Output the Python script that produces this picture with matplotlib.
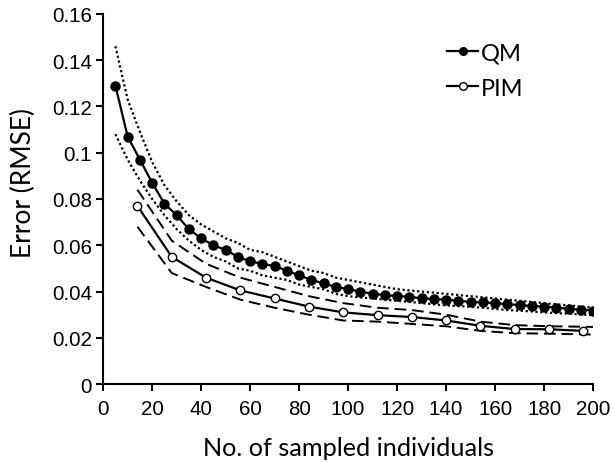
import matplotlib
matplotlib.use("Agg")
import matplotlib.pyplot as plt
import numpy as np

# ----------------------------------------------------------------------------
# Dados
# ----------------------------------------------------------------------------
qm_n = list(range(5, 201, 5))
qm_rmse = [0.129, 0.107, 0.097, 0.087, 0.078, 0.073, 0.067, 0.063, 0.060, 0.058,
           0.055, 0.053, 0.052, 0.051, 0.049, 0.047, 0.045, 0.0435, 0.042, 0.041,
           0.040, 0.039, 0.0385, 0.038, 0.0378, 0.037, 0.0368, 0.0365, 0.036, 0.0355,
           0.0353, 0.035, 0.0345, 0.0342, 0.0337, 0.0335, 0.033, 0.0326, 0.0322, 0.0318]
qm_hi = [0.146, 0.123, 0.109, 0.096, 0.086, 0.079, 0.073, 0.069, 0.066, 0.063,
         0.061, 0.058, 0.057, 0.055, 0.053, 0.051, 0.049, 0.048, 0.046, 0.045,
         0.044, 0.043, 0.042, 0.041, 0.0405, 0.040, 0.0395, 0.039, 0.0385, 0.038,
         0.0375, 0.037, 0.0365, 0.036, 0.0355, 0.035, 0.0345, 0.034, 0.0335, 0.033]
qm_lo = [0.108, 0.097, 0.088, 0.080, 0.073, 0.067, 0.062, 0.058, 0.055, 0.053,
         0.050, 0.049, 0.047, 0.046, 0.045, 0.043, 0.042, 0.041, 0.039, 0.038,
         0.0375, 0.037, 0.0365, 0.036, 0.0355, 0.035, 0.0345, 0.034, 0.0337, 0.0334,
         0.033, 0.0325, 0.032, 0.0317, 0.0314, 0.031, 0.0307, 0.0304, 0.0301, 0.0298]

pim_n = [14, 28, 42, 56, 70, 84, 98, 112, 126, 140, 154, 168, 182, 196]
pim_rmse = [0.077, 0.055, 0.046, 0.0405, 0.037, 0.0335, 0.031, 0.0298, 0.029, 0.0275,
            0.0252, 0.0238, 0.0237, 0.023]
pim_band_n = [14, 28, 42, 56, 70, 84, 98, 112, 126, 140, 154, 168, 182, 196, 200]
pim_hi = [0.084, 0.062, 0.052, 0.046, 0.042, 0.038, 0.035, 0.033, 0.032, 0.030,
          0.027, 0.0255, 0.025, 0.0248, 0.0247]
pim_lo = [0.068, 0.048, 0.042, 0.0365, 0.033, 0.030, 0.0275, 0.027, 0.026, 0.025,
          0.023, 0.022, 0.0218, 0.0215, 0.0214]

x_ticks = list(range(0, 201, 20))
y_ticks = [0, 0.02, 0.04, 0.06, 0.08, 0.1, 0.12, 0.14, 0.16]

# ----------------------------------------------------------------------------
# Plot
# ----------------------------------------------------------------------------
TICK_FONT = "Liberation Sans"
LABEL_FONT = "Lato"

fig = plt.figure(figsize=(6.14, 4.64), dpi=100)
ax = fig.add_axes([0.168, 0.170, 0.798, 0.798])

ax.plot(qm_n, qm_hi, color="black", linestyle=(0, (1, 1.2)), linewidth=1.6, zorder=2)
ax.plot(qm_n, qm_lo, color="black", linestyle=(0, (1, 1.2)), linewidth=1.6, zorder=2)
ax.plot(pim_band_n, pim_hi, color="black", linestyle=(0, (6, 3)), linewidth=1.4, zorder=2)
ax.plot(pim_band_n, pim_lo, color="black", linestyle=(0, (6, 3)), linewidth=1.4, zorder=2)

ax.plot(qm_n, qm_rmse, color="black", linewidth=1.6, marker="o", markersize=6.5,
        markerfacecolor="black", markeredgecolor="black", label="QM", zorder=4)
ax.plot(pim_n, pim_rmse, color="black", linewidth=1.6, marker="o", markersize=6,
        markerfacecolor="white", markeredgecolor="black", markeredgewidth=1.0,
        label="PIM", zorder=4)

ax.set_xlim(0, 200)
ax.set_ylim(0, 0.16)
ax.set_xticks(x_ticks)
ax.set_yticks(y_ticks)
ax.set_xticklabels([f"{v:g}" for v in x_ticks], fontsize=14.8, family=TICK_FONT)
ax.set_yticklabels([f"{v:g}" for v in y_ticks], fontsize=14.8, family=TICK_FONT)
ax.tick_params(direction="out", length=5, width=1.5, color="black")
ax.tick_params(axis="x", pad=6)
ax.tick_params(axis="y", pad=3)

ax.set_xlabel("No. of sampled individuals", fontsize=18.2, family=LABEL_FONT, labelpad=13)
ax.set_ylabel("Error (RMSE)", fontsize=19, family=LABEL_FONT)
ax.yaxis.set_label_coords(-0.138, 0.546)

for side in ("top", "right"):
    ax.spines[side].set_visible(False)
for side in ("left", "bottom"):
    ax.spines[side].set_linewidth(1.5)
    ax.spines[side].set_color("black")

leg = ax.legend(loc="upper right", bbox_to_anchor=(0.9, 0.98), frameon=False,
                handlelength=1.3, handletextpad=0.1, labelspacing=0.6,
                prop={"family": LABEL_FONT, "size": 17})
for h in leg.legend_handles:
    h.set_markersize(5.5)

fig.savefig("out.png", dpi=100)
